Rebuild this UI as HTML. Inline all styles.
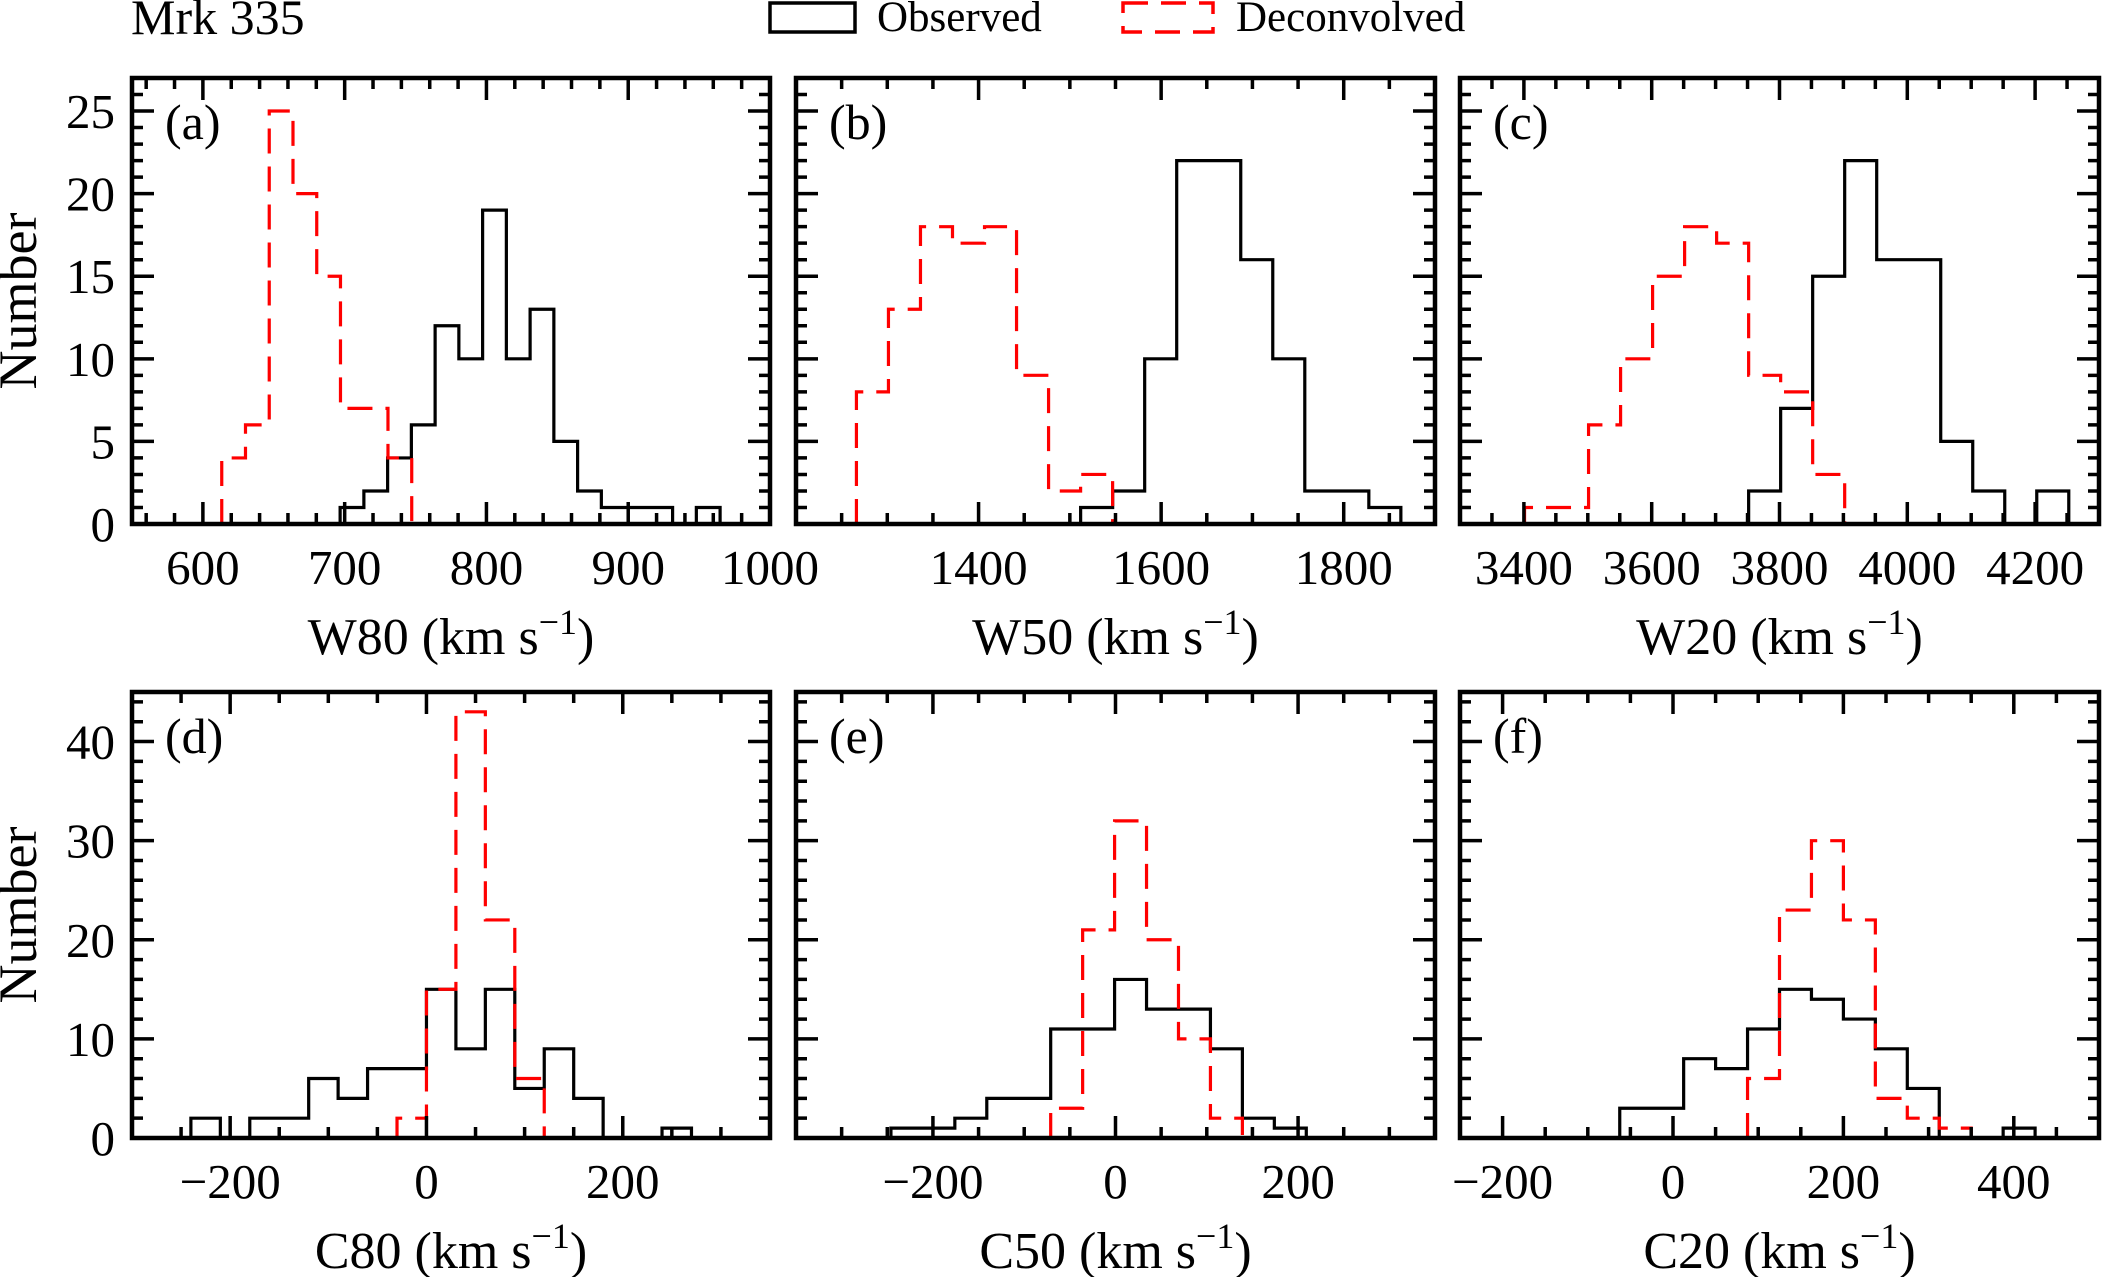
<!DOCTYPE html>
<html><head><meta charset="utf-8"><style>
html,body{margin:0;padding:0;background:#fff;}
svg{display:block;}
text{font-family:"Liberation Serif",serif;fill:#000;}
</style></head><body>
<svg id="fig" width="2102" height="1277" viewBox="0 0 2102 1277" xmlns="http://www.w3.org/2000/svg">
<text x="131" y="34" font-size="50">Mrk 335</text>
<g>
<rect x="770" y="3" width="85" height="29" fill="none" stroke="#000" stroke-width="3.5"/>
<text x="877" y="31" font-size="43">Observed</text>
<rect x="1123" y="3" width="90" height="29" fill="none" stroke="#f00" stroke-width="3.5" stroke-dasharray="25,13"/>
<text x="1236" y="31" font-size="43">Deconvolved</text>
</g>
</svg>
<script>
// Panel (a) W80
const aObsStart = 696.8, aDecStart = 613.3, aWidth = 16.75;
const aObs = [1,2,4,6,12,10,19,10,13,5,2,1,1,1,0,1];
const aDec = [4,6,25,20,15,7,7,4];
// Panel (b) W50
const bObsStart = 1511.8, bDecStart = 1266.2, bWidth = 35.08;
const bObs = [1,2,10,22,22,16,10,2,2,1];
const bDec = [8,13,18,17,18,9,2,3];
// Panel (c) W20
const cObsStart = 3751.7, cDecStart = 3401, cWidth = 50.1;
const cObs = [2,7,15,22,16,16,5,2,0,2];
const cDec = [1,1,6,10,15,18,17,9,8,3];
// Panel (d) C80
const dObsStart = -240, dDecStart = -30, dWidth = 30;
const dObs = [2,0,2,2,6,4,7,7,15,9,15,5,9,4,0,0,1];
const dDec = [2,15,43,22,6];
// Panel (e) C50
const eObsStart = -246, eDecStart = -71, eWidth = 35;
const eObs = [1,1,2,4,4,11,11,16,13,13,9,2,1];
const eDec = [3,21,32,20,10,2];
// Panel (f) C20
const fObsStart = -62.5, fDecStart = 87.5, fWidth = 37.5;
const fObs = [3,3,8,7,11,15,14,12,9,5,0,0,1];
const fDec = [6,23,30,22,4,2,1];
// tick labels
const aTicks = [600,700,800,900,1000];
const bTicks = [1400,1600,1800];
const cTicks = [3400,3600,3800,4000,4200];
const dTicks = [-200,0,200];
const eTicks = [-200,0,200];
const fTicks = [-200,0,200,400];
const topYTicks = [0,5,10,15,20,25];
const botYTicks = [0,10,20,30,40];

const NS = "http://www.w3.org/2000/svg";
const svg = document.getElementById('fig');
function mk(tag, attrs, parent){ const e=document.createElementNS(NS,tag); for(const k in attrs) e.setAttribute(k,attrs[k]); (parent||svg).appendChild(e); return e; }

const panels = [
 {id:'a',x0:132,x1:770,y0:78,y1:524,xmin:550,xmax:1000,ymax:27,xmaj:100,xmin_:20,ymaj:5,ymin_:1,obs:aObs,os:aObsStart,dec:aDec,ds:aDecStart,w:aWidth,xt:aTicks,yt:topYTicks,lab:'W80',ylab:true},
 {id:'b',x0:796,x1:1435,y0:78,y1:524,xmin:1200,xmax:1900,ymax:27,xmaj:200,xmin_:50,ymaj:5,ymin_:1,obs:bObs,os:bObsStart,dec:bDec,ds:bDecStart,w:bWidth,xt:bTicks,yt:[],lab:'W50'},
 {id:'c',x0:1460,x1:2099,y0:78,y1:524,xmin:3300,xmax:4300,ymax:27,xmaj:200,xmin_:50,ymaj:5,ymin_:1,obs:cObs,os:cObsStart,dec:cDec,ds:cDecStart,w:cWidth,xt:cTicks,yt:[],lab:'W20'},
 {id:'d',x0:132,x1:770,y0:692,y1:1138,xmin:-300,xmax:350,ymax:45,xmaj:200,xmin_:50,ymaj:10,ymin_:2,obs:dObs,os:dObsStart,dec:dDec,ds:dDecStart,w:dWidth,xt:dTicks,yt:botYTicks,lab:'C80',ylab:true},
 {id:'e',x0:796,x1:1435,y0:692,y1:1138,xmin:-350,xmax:350,ymax:45,xmaj:200,xmin_:50,ymaj:10,ymin_:2,obs:eObs,os:eObsStart,dec:eDec,ds:eDecStart,w:eWidth,xt:eTicks,yt:[],lab:'C50'},
 {id:'f',x0:1460,x1:2099,y0:692,y1:1138,xmin:-250,xmax:500,ymax:45,xmaj:200,xmin_:50,ymaj:10,ymin_:2,obs:fObs,os:fObsStart,dec:fDec,ds:fDecStart,w:fWidth,xt:fTicks,yt:[],lab:'C20'}
];

panels.forEach(p=>{
  const g = mk('g',{});
  
  
  const X = v => p.x0 + (v-p.xmin)/(p.xmax-p.xmin)*(p.x1-p.x0);
  const Y = v => p.y1 - v/p.ymax*(p.y1-p.y0);
  function hist(counts,start,color,dash,name){
    let d = 'M'+X(start)+','+Y(0);
    counts.forEach((c,i)=>{ d += ' L'+X(start+i*p.w)+','+Y(c)+' L'+X(start+(i+1)*p.w)+','+Y(c); });
    d += ' L'+X(start+counts.length*p.w)+','+Y(0);
    const path = mk('path',{d:d,fill:'none',stroke:color,'stroke-width':3.2,'stroke-dasharray':dash||'none'},g);
    
    
  }
  hist(p.obs,p.os,'#000',null,'observed-histogram-'+p.id);
  hist(p.dec,p.ds,'#f00','25,13','deconvolved-histogram-'+p.id);
  let td='';
  const eps=1e-6;
  for(let v=Math.ceil(p.xmin/p.xmin_)*p.xmin_; v<=p.xmax+eps; v+=p.xmin_){
    const maj = Math.abs(v/p.xmaj-Math.round(v/p.xmaj))<1e-6;
    const L = maj?22:11, x=X(v);
    td += `M${x},${p.y1} v${-L} M${x},${p.y0} v${L} `;
  }
  for(let v=0; v<=p.ymax+eps; v+=p.ymin_){
    const maj = Math.abs(v/p.ymaj-Math.round(v/p.ymaj))<1e-6;
    const L = maj?22:11, y=Y(v);
    td += `M${p.x0},${y} h${L} M${p.x1},${y} h${-L} `;
  }
  const ticks = mk('path',{d:td,stroke:'#000','stroke-width':3.5,fill:'none'},g);
  
  
  const frame = mk('rect',{x:p.x0,y:p.y0,width:p.x1-p.x0,height:p.y1-p.y0,fill:'none',stroke:'#000','stroke-width':4.5},g);
  
  
  p.xt.forEach(v=>{
    const t = mk('text',{x:X(v),y:p.y1+60,'font-size':49,'text-anchor':'middle'},g);
    t.textContent = v<0 ? '\u2212'+(-v) : String(v);
    
    
  });
  p.yt.forEach(v=>{
    const t = mk('text',{x:p.x0-17,y:Y(v)+17,'font-size':49,'text-anchor':'end'},g);
    t.textContent = String(v);
    
    
  });
  const xt = mk('text',{x:(p.x0+p.x1)/2,y:p.y1+130,'font-size':52,'text-anchor':'middle'},g);
  
  
  xt.appendChild(document.createTextNode(p.lab+' (km s'));
  const sup = mk('tspan',{dy:-20,'font-size':36},xt); sup.textContent='\u22121';
  const cl = mk('tspan',{dy:20},xt); cl.textContent=')';
  const pl = mk('text',{x:p.x0+33,y:p.y0+61,'font-size':50},g);
  pl.textContent = '('+p.id+')';
  
  
  if(p.ylab){
    const cy=(p.y0+p.y1)/2;
    const yl = mk('text',{x:0,y:0,'font-size':54,'text-anchor':'middle',transform:`translate(36,${cy}) rotate(-90)`},g);
    yl.textContent='Number';
    
    
  }
});
</script>
</body></html>
